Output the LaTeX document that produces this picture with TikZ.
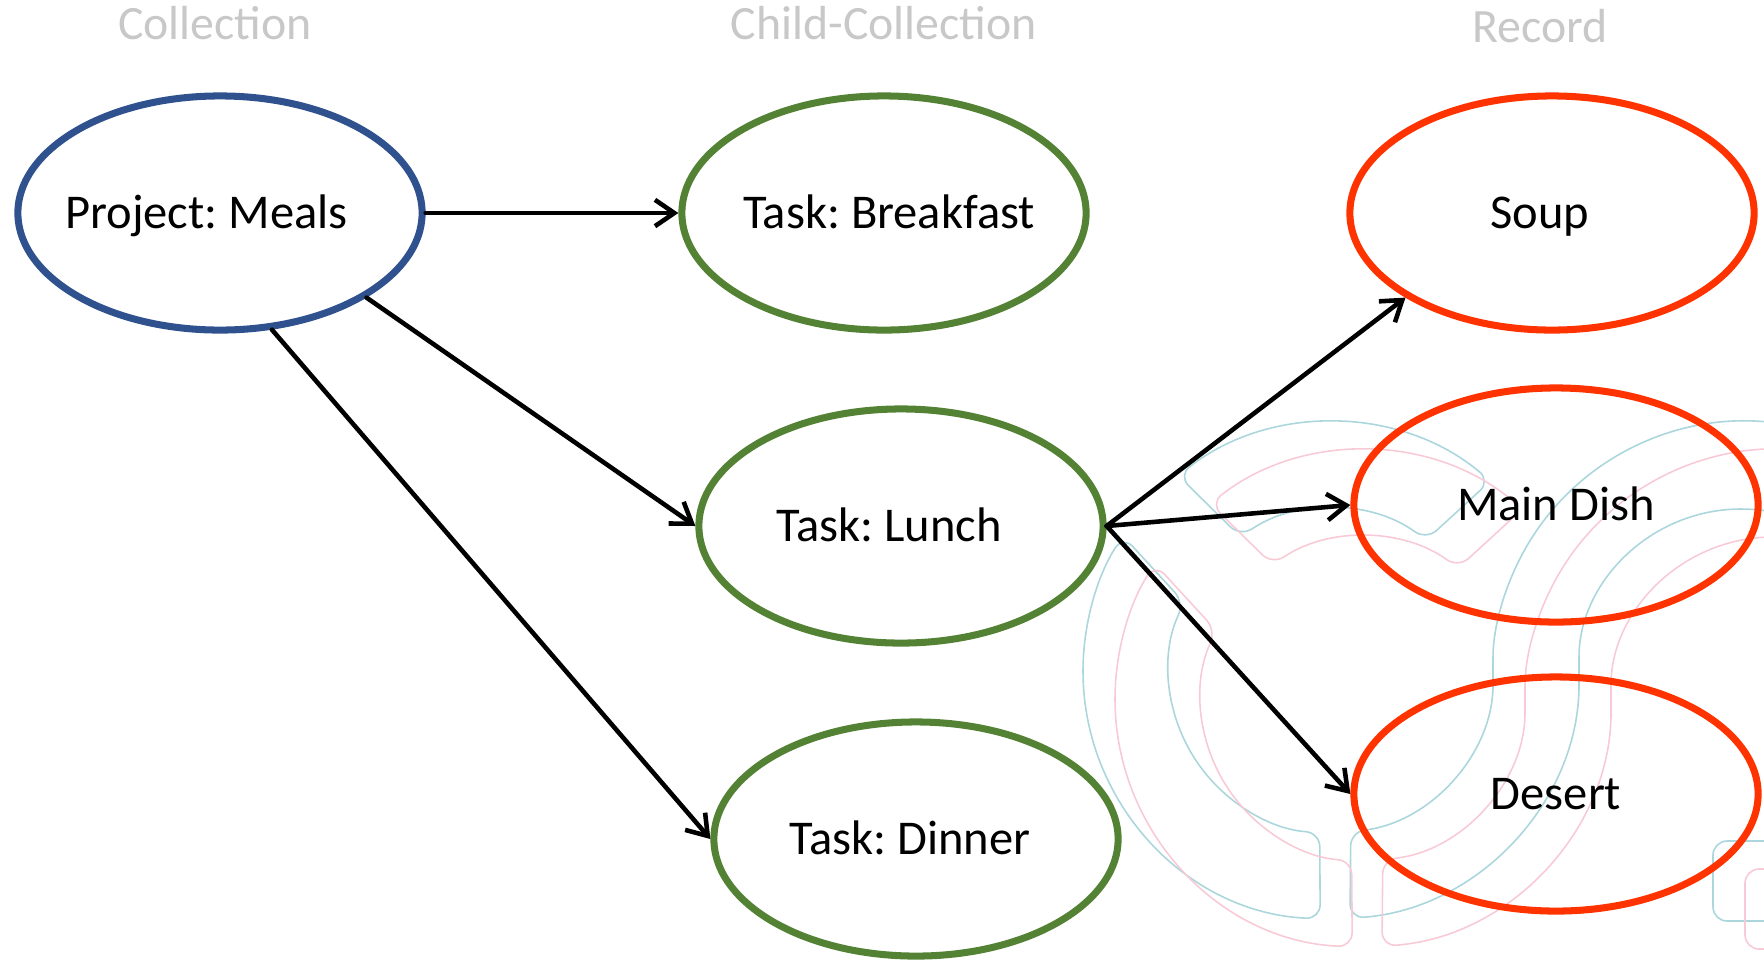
\documentclass[tikz,border=0pt]{standalone}
\usepackage{fontspec}
\setmainfont{Carlito}
\usetikzlibrary{shapes.geometric, arrows.meta, calc}

\definecolor{collblue}{RGB}{47,82,143}
\definecolor{childgreen}{RGB}{84,130,53}
\definecolor{recred}{RGB}{255,51,0}
\definecolor{headgray}{RGB}{200,200,200}
\definecolor{wmcyan}{RGB}{170,214,220}
\definecolor{wmpink}{RGB}{248,202,214}

% faint logo in the background: #1,#2 centre, #3 colour
\newcommand{\wmlogo}[3]{%
  \begin{scope}[shift={(#1, #2)}, color=#3, line width=0.45pt, rounded corners=4pt]
    \draw (92.5:248) arc[start angle=92.5, end angle=213, radius=248] -- (205:162) arc[start angle=205, end angle=94, radius=162] -- cycle;
    \draw (232:248) arc[start angle=232, end angle=310, radius=248] -- (306:162) arc[start angle=306, end angle=236, radius=162] -- cycle;
    \draw (85.6:248) arc[start angle=85.6, end angle=0, radius=248] arc[start angle=180, end angle=300, radius=162] -- ($(410, 0)+(300:248)$) arc[start angle=300, end angle=180, radius=248] arc[start angle=0, end angle=83, radius=162] -- cycle;
    \draw (460, 170) -- (382, 170) -- (382, 250) -- (460, 250);
  \end{scope}}

% label text moved sideways by half of #1 inside its ellipse
\newcommand{\offtext}[2]{\makebox[0pt]{\hspace*{#1}#2}}

\begin{document}
\frenchspacing
\begin{tikzpicture}[x=0.01cm, y=-0.01cm,
    entity/.style={ellipse, draw, line width=2pt, minimum width=4.04cm, minimum height=2.34cm, inner sep=0pt, text height=8.6pt, text depth=0pt, font=\fontsize{13.8}{16}\selectfont},
    coll/.style={entity, draw=collblue},
    child/.style={entity, draw=childgreen},
    rec/.style={entity, draw=recred},
    head/.style={anchor=base, text=headgray, font=\fontsize{13.6}{16}\selectfont},
    link/.style={line width=1.3pt, line cap=round, -{Straight Barb[length=5.5pt, width=7.5pt]}}]
    \useasboundingbox (0, 0) rectangle (1764, 960);

    % Background
    \wmlogo{1331}{671}{wmcyan}
    \wmlogo{1363}{699}{wmpink}

    % Column titles
    \node[head] (hcoll) at (215, 39) {Collection};
    \node[head] (hchild) at (884, 39) {Child-Collection};
    \node[head] (hrec) at (1540, 42) {Record};

    % Collection
    \node[coll] (meals) at (220, 213) {\offtext{-0.27cm}{Project: Meals}};

    % Child collections
    \node[child] (breakfast) at (884, 213) {\offtext{0.1cm}{Task: Breakfast}};
    \node[child] (lunch) at (901, 526) {\offtext{-0.24cm}{Task: Lunch}};
    \node[child] (dinner) at (916, 839) {\offtext{-0.12cm}{Task: Dinner}};

    % Records
    \node[rec] (soup) at (1552, 213) {\offtext{-0.24cm}{Soup}};
    \node[rec] (maindish) at (1556, 505) {Main Dish};
    \node[rec] (desert) at (1556, 794) {Desert};

    % Links
    \draw[link] (meals.east) -- (breakfast.west);
    \draw[link] (meals.-30) -- (lunch.west);
    \draw[link] (meals.-66) -- (dinner.west);
    \draw[link] (lunch.east) -- (soup.210);
    \draw[link] (lunch.east) -- (maindish.west);
    \draw[link] (lunch.east) -- (desert.west);

\end{tikzpicture}
\end{document}
